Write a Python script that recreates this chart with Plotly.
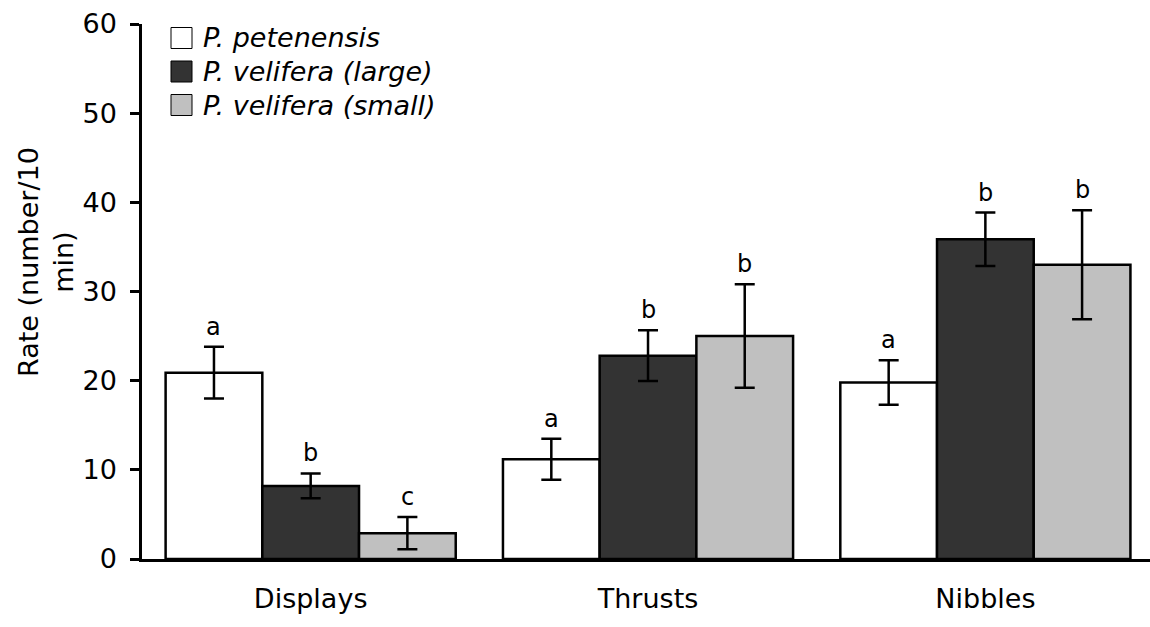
import plotly.graph_objects as go

# Behaviour categories and species groups
categories = ["Displays", "Thrusts", "Nibbles"]
series_names = ["P. petenensis", "P. velifera (large)", "P. velifera (small)"]

# Mean rates (number / 10 min) and error half-widths
petenensis = [20.9, 11.2, 19.8]
petenensis_err = [2.9, 2.3, 2.5]
velifera_large = [8.2, 22.8, 35.85]
velifera_large_err = [1.4, 2.85, 3.0]
velifera_small = [2.9, 25.0, 33.0]
velifera_small_err = [1.8, 5.8, 6.1]

# Significance letters above each bar
petenensis_sig = ["a", "a", "a"]
velifera_large_sig = ["b", "b", "b"]
velifera_small_sig = ["c", "b", "b"]

y_ticks = [0, 10, 20, 30, 40, 50, 60]

values = [petenensis, velifera_large, velifera_small]
errors = [petenensis_err, velifera_large_err, velifera_small_err]
letters = [petenensis_sig, velifera_large_sig, velifera_small_sig]
fills = ["#ffffff", "#333333", "#c0c0c0"]

FONT = "DejaVu Sans, Liberation Sans, Arial, sans-serif"
FS = 27

W, H = 1150, 627
ML, MR, MT, MB = 142, 0, 24, 68
PW, PH = W - ML - MR, H - MT - MB
BARGAP = 0.14
x_pos = list(range(len(categories)))


def px_x(px):
    return (px - ML) / PW


def px_y(py):
    return (H - MB - py) / PH


fig = go.Figure()
for name, vals, errs, fill in zip(series_names, values, errors, fills):
    fig.add_trace(go.Bar(
        x=x_pos, y=vals, name=name,
        marker=dict(color=fill, line=dict(color="#000000", width=2.5)),
        error_y=dict(type="data", array=errs, visible=True,
                     color="#000000", thickness=2.5, width=10),
        showlegend=False,
    ))

# Letters above the error bars
bar_w = (1 - BARGAP) / len(series_names)
for j, (vals, errs, labs) in enumerate(zip(values, errors, letters)):
    for i, (v, e, lab) in enumerate(zip(vals, errs, labs)):
        fig.add_annotation(
            x=i + (j - 1) * bar_w, y=v + e, xref="x", yref="y",
            text=lab, showarrow=False, yanchor="bottom", yshift=4,
            font=dict(family=FONT, size=24, color="#000000"),
        )

# Legend drawn as swatches with italic labels
row_y = [38, 71.5, 105]
for name, fill, ry in zip(series_names, fills, row_y):
    fig.add_shape(
        type="rect", xref="paper", yref="paper",
        x0=px_x(171), x1=px_x(192), y0=px_y(ry + 10.5), y1=px_y(ry - 10.5),
        fillcolor=fill, line=dict(color="#000000", width=1),
    )
    fig.add_annotation(
        x=px_x(201), y=px_y(ry), xref="paper", yref="paper",
        text=f"<i>{name}</i>", showarrow=False,
        xanchor="left", yanchor="middle",
        font=dict(family=FONT, size=FS, color="#000000"),
    )

# Y axis title
fig.add_annotation(
    x=px_x(46), y=px_y(262), xref="paper", yref="paper",
    text="Rate (number/10<br>min)", textangle=-90, showarrow=False,
    xanchor="center", yanchor="middle",
    font=dict(family=FONT, size=FS, color="#000000"),
)

fig.update_layout(
    width=W, height=H,
    margin=dict(l=ML, r=MR, t=MT, b=MB, pad=0),
    paper_bgcolor="#ffffff", plot_bgcolor="#ffffff",
    barmode="group", bargap=BARGAP, bargroupgap=0,
    font=dict(family=FONT, size=FS, color="#000000"),
    xaxis=dict(
        range=[-0.5, 2.488], tickvals=x_pos, ticktext=categories,
        showline=True, linecolor="#000000", linewidth=2.5,
        ticks="", showgrid=False, zeroline=False, fixedrange=True,
        ticklabelstandoff=14,
        tickfont=dict(family=FONT, size=FS, color="#000000"),
    ),
    yaxis=dict(
        range=[0, 60], tickvals=y_ticks, ticktext=[str(t) for t in y_ticks],
        showline=True, linecolor="#000000", linewidth=2.5,
        ticks="outside", ticklen=9, tickwidth=2.5, tickcolor="#000000",
        showgrid=False, zeroline=False, fixedrange=True,
        ticklabelstandoff=8,
        tickfont=dict(family=FONT, size=FS, color="#000000"),
    ),
)

fig.write_html("out.html", config={"displayModeBar": False})
